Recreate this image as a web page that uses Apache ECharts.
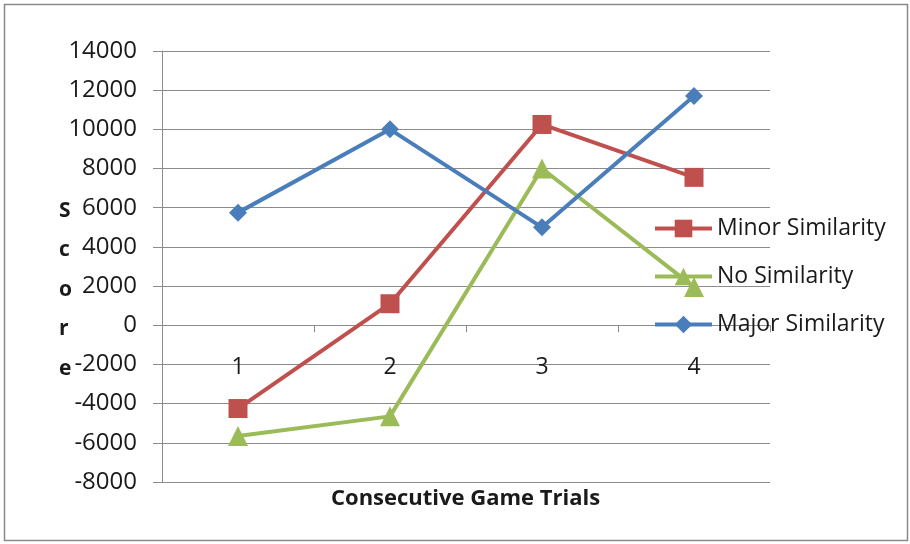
<!DOCTYPE html>
<html>
<head>
<meta charset="utf-8">
<script src="https://cdn.jsdelivr.net/npm/echarts@6/dist/echarts.min.js"></script>
<style>
  html, body { margin: 0; padding: 0; background: #fff; }
  #chart { width: 910px; height: 544px; }
</style>
</head>
<body>
<div id="chart"></div>
<script>
// Game trial categories and scores per similarity condition
const trials = ['1', '2', '3', '4'];
const minorSimilarity = [-4250, 1100, 10250, 7550];
const noSimilarity = [-5650, -4650, 8000, 1950];
const majorSimilarity = [5750, 10000, 5000, 11700];

const FONT = '"Open Sans", sans-serif';
const TEXT = '#1a1a1a';
const GRID = '#8c8c8c';

const chart = echarts.init(document.getElementById('chart'), null, { renderer: 'canvas' });

function lineSeries(name, data, color, symbol, size) {
  return {
    name: name,
    type: 'line',
    data: data,
    symbol: symbol,
    symbolSize: size,
    lineStyle: { color: color, width: 4 },
    itemStyle: { color: color },
    z: 3
  };
}

chart.setOption({
  animation: false,
  backgroundColor: '#fff',
  grid: { left: 162, right: 140, top: 51, bottom: 62, containLabel: false },
  xAxis: {
    type: 'category',
    data: trials,
    boundaryGap: true,
    axisLine: { onZero: true, lineStyle: { color: GRID, width: 1 } },
    axisTick: { show: true, length: 7, lineStyle: { color: GRID } },
    // category labels sit just below the zero line
    axisLabel: { margin: -126, fontSize: 23, color: TEXT, fontFamily: FONT }
  },
  yAxis: {
    type: 'value',
    min: -8000,
    max: 14000,
    interval: 2000,
    axisLine: { show: true, lineStyle: { color: GRID, width: 1 } },
    axisTick: { show: true, length: 9, lineStyle: { color: GRID } },
    axisLabel: {
      margin: 25,
      fontSize: 24,
      color: TEXT,
      fontFamily: FONT,
      formatter: function (v) { return String(v); }
    },
    splitLine: { show: true, lineStyle: { color: GRID, width: 1 } }
  },
  legend: {
    orient: 'vertical',
    left: 648,
    top: 212,
    itemWidth: 57,
    itemHeight: 22,
    itemGap: 25,
    lineStyle: { width: 4 },
    textStyle: { fontSize: 23, color: TEXT, fontFamily: FONT },
    data: ['Minor Similarity', 'No Similarity', 'Major Similarity']
  },
  series: [
    lineSeries('Minor Similarity', minorSimilarity, '#C0504D', 'rect', 19),
    lineSeries('No Similarity', noSimilarity, '#9BBB59', 'triangle', 20),
    lineSeries('Major Similarity', majorSimilarity, '#4A7EBB', 'diamond', 18)
  ],
  graphic: [
    {
      type: 'rect',
      shape: { x: 4.5, y: 4.5, width: 903, height: 536 },
      style: { fill: 'none', stroke: '#8a8a8a', lineWidth: 1.5 },
      silent: true
    },
    {
      type: 'text',
      left: 59,
      top: 191,
      style: {
        text: 'S\nc\no\nr\ne',
        font: 'bold 21px ' + FONT,
        fill: TEXT,
        lineHeight: 39.5,
        align: 'center'
      }
    },
    {
      type: 'text',
      left: 331,
      top: 488,
      style: {
        text: 'Consecutive Game Trials',
        font: 'bold 22px ' + FONT,
        fill: TEXT
      }
    }
  ]
});
</script>
</body>
</html>
